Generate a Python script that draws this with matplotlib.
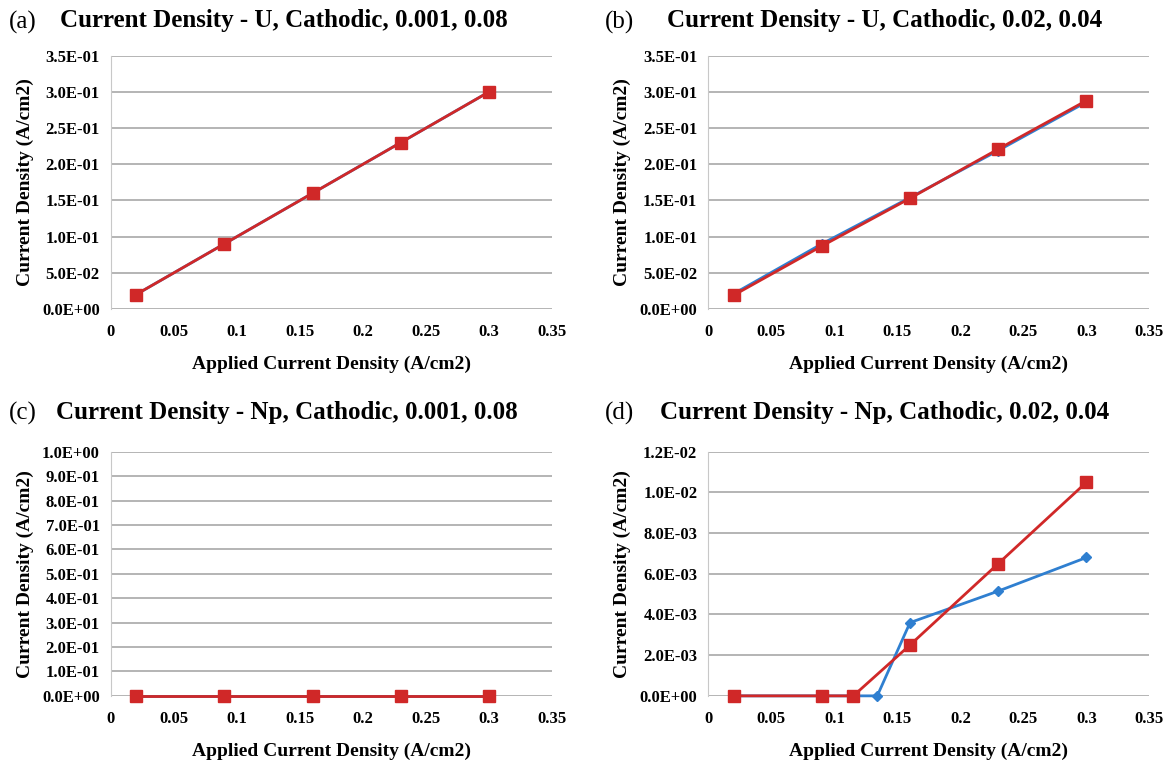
import matplotlib
matplotlib.use('Agg')
import matplotlib.pyplot as plt
from matplotlib.ticker import FuncFormatter, MultipleLocator

plt.rcParams['font.family'] = ['Liberation Serif', 'DejaVu Serif']

# applied current density (A/cm2)
x_u = [0.02, 0.09, 0.16, 0.23, 0.3]

# (a) U, 0.001, 0.08
a_red = [0.02, 0.09, 0.16, 0.23, 0.30]
a_blue = [0.02, 0.09, 0.16, 0.23, 0.30]
# (b) U, 0.02, 0.04
b_red = [0.019, 0.087, 0.153, 0.221, 0.288]
b_blue = [0.021, 0.090, 0.154, 0.219, 0.286]
# (c) Np, 0.001, 0.08
c_red = [0, 0, 0, 0, 0]
c_blue = [0, 0, 0, 0, 0]
# (d) Np, 0.02, 0.04
x_d_red = [0.02, 0.09, 0.115, 0.16, 0.23, 0.3]
d_red = [0, 0, 0, 0.0025, 0.0065, 0.0105]
x_d_blue = [0.02, 0.09, 0.115, 0.134, 0.16, 0.23, 0.3]
d_blue = [0, 0, 0, 0, 0.0036, 0.00515, 0.0068]

titles = ['Current Density - U, Cathodic, 0.001, 0.08',
          'Current Density - U, Cathodic, 0.02, 0.04',
          'Current Density - Np, Cathodic, 0.001, 0.08',
          'Current Density - Np, Cathodic, 0.02, 0.04']
letters = ['(a)', '(b)', '(c)', '(d)']

RED = '#D02828'
BLUE = '#2F7FD0'

fig = plt.figure(figsize=(11.67, 7.63), dpi=100)

W = 0.378
boxes = [[0.095, 0.595, W, 0.332],
         [0.607, 0.595, W, 0.332],
         [0.095, 0.088, W, 0.320],
         [0.607, 0.088, W, 0.320]]

series = [
    (x_u, a_blue, x_u, a_red),
    (x_u, b_blue, x_u, b_red),
    (x_u, c_blue, x_u, c_red),
    (x_d_blue, d_blue, x_d_red, d_red),
]
ylims = [(0, 0.35, 0.05), (0, 0.35, 0.05), (0, 1.0, 0.1), (0, 0.012, 0.002)]

def sci(v, pos):
    return f'{v:.1E}'

def plain(v, pos):
    return f'{v:g}'

for i, box in enumerate(boxes):
    ax = fig.add_axes(box)
    xb, yb, xr, yr = series[i]
    ax.plot(xb, yb, color=BLUE, lw=2, marker='D', ms=5.5, zorder=3, clip_on=False)
    ax.plot(xr, yr, color=RED, lw=2, marker='s', ms=8.5, zorder=4, clip_on=False)
    lo, hi, step = ylims[i]
    ax.set_ylim(lo, hi)
    ax.set_xlim(0, 0.35)
    ax.yaxis.set_major_locator(MultipleLocator(step))
    ax.xaxis.set_major_locator(MultipleLocator(0.05))
    ax.yaxis.set_major_formatter(FuncFormatter(sci))
    ax.xaxis.set_major_formatter(FuncFormatter(plain))
    ax.grid(axis='y', color='#A8A8A8', lw=1.2)
    ax.set_axisbelow(True)
    for s in ['top', 'right', 'bottom']:
        ax.spines[s].set_visible(False)
    ax.spines['left'].set_color('#C8C8C8')
    ax.tick_params(length=0, labelsize=12)
    ax.tick_params(axis='x', pad=11)
    ax.tick_params(axis='y', pad=8)
    for lab in ax.get_xticklabels() + ax.get_yticklabels():
        lab.set_fontweight('bold')
    ax.set_ylabel('Current Density (A/cm2)', fontsize=14, fontweight='bold', labelpad=6)
    ax.set_xlabel('Applied Current Density (A/cm2)', fontsize=14, fontweight='bold', labelpad=11)

# panel titles and letters
title_pos = [(0.243, 0.973), (0.758, 0.973), (0.246, 0.46), (0.758, 0.46)]
letter_pos = [(0.008, 0.971), (0.518, 0.971), (0.008, 0.458), (0.518, 0.458)]
for i in range(4):
    fig.text(title_pos[i][0], title_pos[i][1], titles[i], ha='center', va='center',
             fontsize=18, fontweight='bold')
    fig.text(letter_pos[i][0], letter_pos[i][1], letters[i], ha='left', va='center',
             fontsize=18)

fig.savefig('out.png', dpi=100)
